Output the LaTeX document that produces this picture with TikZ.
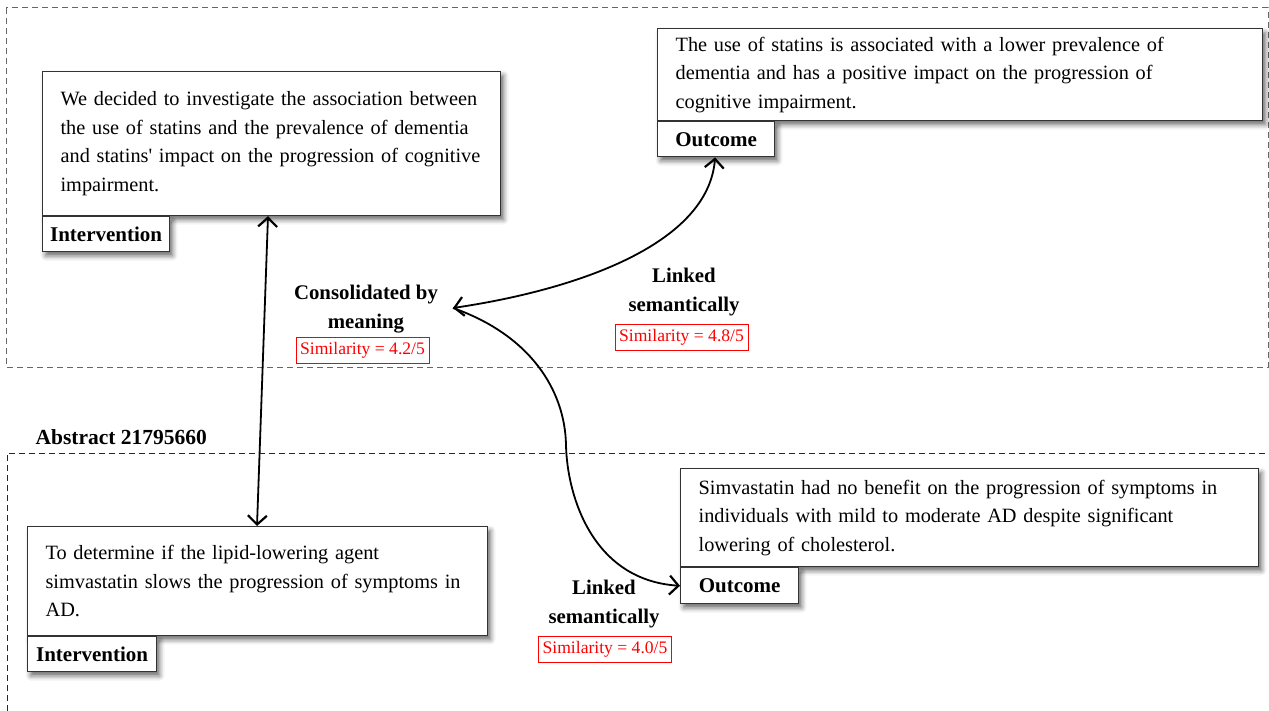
\documentclass[tikz,border=0pt]{standalone}
\usepackage{fontspec}
\setmainfont{Liberation Serif}
\usetikzlibrary{arrows.meta,shadows.blur}

% one printed line of a text box, kept on a single line
\newcommand{\boxline}[1]{\mbox{#1}}

\begin{document}
\begin{tikzpicture}[x=1pt,y=-1pt,
  frame/.style={draw=#1, dash pattern=on 6pt off 4pt, line width=1pt},
  boxshadow/.style={blur shadow={shadow xshift=3pt, shadow yshift=-4pt,
      shadow blur radius=5pt, shadow opacity=60}},
  textbox/.style={draw=black!80, line width=1.2pt, fill=white, anchor=north west,
      align=left, inner xsep=18pt, inner ysep=0pt, boxshadow,
      font=\fontsize{20.3}{28.5}\selectfont},
  tagbox/.style={draw=black!80, line width=1.2pt, fill=white, anchor=north west,
      inner sep=0pt, boxshadow, font=\fontsize{21}{24}\selectfont\bfseries},
  linklabel/.style={align=center, font=\fontsize{20.8}{28.5}\selectfont\bfseries},
  simbox/.style={draw=red, text=red, line width=0.8pt, inner sep=0pt,
      minimum width=133pt, minimum height=26pt, font=\fontsize{17.6}{20}\selectfont},
  tip/.tip={Straight Barb[length=9pt,width=19pt,line width=2.2pt]},
  link/.style={line width=1.8pt}
]
\useasboundingbox (0,0) rectangle (1269,711);

% abstract frames
\draw[frame=black!60] (6,8) rectangle (1268,367);
\draw[frame=black!85] (7,711) -- (7,453) -- (1269,453);
\node[anchor=west, font=\fontsize{21.5}{24}\selectfont\bfseries] (abs) at (32,437) {Abstract 21795660};

% upper abstract
\node[textbox, text width=422pt, minimum height=144pt] (intA) at (42,71)
  {\boxline{We decided to investigate the association between}\\
   \boxline{the use of statins and the prevalence of dementia}\\
   \boxline{and statins\textquotesingle{} impact on the progression of cognitive}\\
   \boxline{impairment.}};
\node[tagbox, minimum width=127pt, minimum height=35pt] (intAtag) at (intA.south west) {Intervention};

\node[textbox, text width=569pt, minimum height=92pt] (outB) at (657,28)
  {\boxline{The use of statins is associated with a lower prevalence of}\\
   \boxline{dementia and has a positive impact on the progression of}\\
   \boxline{cognitive impairment.}};
\node[tagbox, minimum width=117pt, minimum height=35pt] (outBtag) at (outB.south west) {Outcome};

% lower abstract
\node[textbox, text width=424pt, minimum height=109pt] (intC) at (27,526)
  {\boxline{To determine if the lipid-lowering agent}\\
   \boxline{simvastatin slows the progression of symptoms in}\\
   \boxline{AD.}};
\node[tagbox, minimum width=129pt, minimum height=35pt] (intCtag) at (intC.south west) {Intervention};

\node[textbox, text width=542pt, minimum height=98pt] (outD) at (680,468)
  {\boxline{Simvastatin had no benefit on the progression of symptoms in}\\
   \boxline{individuals with mild to moderate AD despite significant}\\
   \boxline{lowering of cholesterol.}};
\node[tagbox, minimum width=118pt, minimum height=36pt] (outDtag) at (outD.south west) {Outcome};

% link labels
\node[linklabel] (consol) at (366,309) {Consolidated by\\meaning};
\node[simbox] (simA) at (362.5,350) {Similarity = 4.2/5};
\node[linklabel] (linkB) at (684,292) {Linked\\semantically};
\node[simbox] (simB) at (681.5,337.5) {Similarity = 4.8/5};
\node[linklabel] (linkD) at (604,604) {Linked\\semantically};
\node[simbox] (simD) at (605,649.5) {Similarity = 4.0/5};

% connectors
\coordinate (hub) at (453,308);
\draw[link, tip-tip] ([xshift=226pt]intA.south west) -- ([xshift=230pt]intC.north west);
\draw[link, tip-tip] (hub) .. controls (575,290) and (708,245) .. ([xshift=-1pt]outBtag.south);
\draw[link, -tip] (hub) .. controls (530,335) and (565,390) .. (566,445)
  .. controls (567,495) and (592,580) .. (outDtag.west);
\end{tikzpicture}
\end{document}
